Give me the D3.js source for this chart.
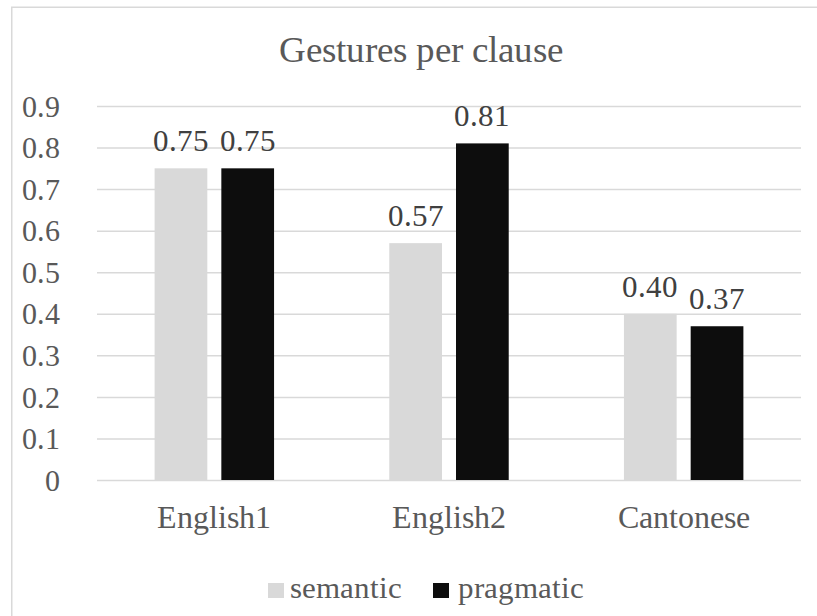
<!DOCTYPE html>
<html>
<head>
<meta charset="utf-8">
<script src="https://cdn.jsdelivr.net/npm/d3@7"></script>
<style>
  @font-face {
    font-family: "ChartSerif";
    src: local("Liberation Serif"), local("LiberationSerif-Regular"), local("LiberationSerif"), local("Times New Roman"), local("Tinos");
  }
  html, body { margin: 0; padding: 0; background: #fff; }
  svg { display: block; }
</style>
</head>
<body>
<svg id="chart" width="817" height="616"></svg>
<script>
// Gestures per clause, by language group and gesture type
const categories = ["English1", "English2", "Cantonese"];
const seriesNames = ["semantic", "pragmatic"];
const semantic = [0.75, 0.57, 0.40];
const pragmatic = [0.75, 0.81, 0.37];
const yTicks = [0, 0.1, 0.2, 0.3, 0.4, 0.5, 0.6, 0.7, 0.8, 0.9];

const colors = { semantic: "#d9d9d9", pragmatic: "#0d0d0d" };
const textColor = "#595959";
const bookFont = "ChartSerif, \"Liberation Serif\", \"Times New Roman\", monospace";

const svg = d3.select("#chart");

// Outer chart frame
svg.append("rect")
  .attr("x", 11.75).attr("y", 7.25)
  .attr("width", 830).attr("height", 630)
  .attr("fill", "#fff")
  .attr("stroke", "#d9d9d9")
  .attr("stroke-width", 1.5);

const plot = { left: 97, right: 801, top: 106, bottom: 480 };

const y = d3.scaleLinear().domain([0, 0.9]).range([plot.bottom, plot.top]);
const x0 = d3.scaleBand().domain(categories).range([plot.left, plot.right])
  .paddingInner(0.491).paddingOuter(0.2455);
const x1 = d3.scaleBand().domain(seriesNames).range([0, x0.bandwidth()])
  .paddingInner(0.21).paddingOuter(0);

// Title
svg.append("text")
  .attr("x", 421).attr("y", 62)
  .attr("text-anchor", "middle")
  .style("font-family", bookFont)
  .attr("font-size", 37)
  .attr("fill", textColor)
  .text("Gestures per clause");

// Horizontal gridlines and y tick labels
const yAxis = d3.axisLeft(y)
  .tickValues(yTicks)
  .tickSize(-(plot.right - plot.left))
  .tickPadding(37)
  .tickFormat(d => d === 0 ? "0" : d3.format(".1f")(d));

const gy = svg.append("g")
  .attr("transform", `translate(${plot.left},0)`)
  .call(yAxis)
  .attr("font-family", null);
gy.select(".domain").remove();
gy.selectAll(".tick line")
  .attr("stroke", "#d9d9d9")
  .attr("stroke-width", 1.5);
gy.selectAll(".tick text")
  .style("font-family", bookFont)
  .attr("font-size", 30)
  .attr("fill", textColor)
  .attr("dy", "0.34em");

// Bars
const rows = categories.map((c, i) => ({
  category: c,
  values: [
    { key: "semantic", value: semantic[i] },
    { key: "pragmatic", value: pragmatic[i] }
  ]
}));

const groups = svg.append("g").selectAll("g")
  .data(rows)
  .join("g")
  .attr("transform", d => `translate(${x0(d.category)},0)`);

groups.selectAll("rect")
  .data(d => d.values)
  .join("rect")
  .attr("x", d => x1(d.key))
  .attr("y", d => y(d.value))
  .attr("width", x1.bandwidth())
  .attr("height", d => y(0) - y(d.value))
  .attr("fill", d => colors[d.key]);

// Value labels above bars
groups.selectAll("text")
  .data(d => d.values)
  .join("text")
  .attr("x", d => x1(d.key) + x1.bandwidth() / 2)
  .attr("y", d => y(d.value) - 17)
  .attr("text-anchor", "middle")
  .style("font-family", bookFont)
  .attr("font-size", 31)
  .attr("fill", "#404040")
  .text(d => d3.format(".2f")(d.value));

// Category axis labels
const xAxis = d3.axisBottom(x0).tickSize(0).tickPadding(0);
const gx = svg.append("g")
  .attr("transform", `translate(0,${plot.bottom})`)
  .call(xAxis)
  .attr("font-family", null);
gx.select(".domain").remove();
gx.selectAll(".tick text")
  .style("font-family", bookFont)
  .attr("font-size", 32)
  .attr("fill", textColor)
  .attr("dy", null)
  .attr("y", 48);

// Legend
const legendItems = [
  { key: "semantic", sx: 268, tx: 290 },
  { key: "pragmatic", sx: 433, tx: 458 }
];
const legend = svg.append("g");
legend.selectAll("rect")
  .data(legendItems)
  .join("rect")
  .attr("x", d => d.sx).attr("y", 583)
  .attr("width", 16).attr("height", 15)
  .attr("fill", d => colors[d.key]);
legend.selectAll("text")
  .data(legendItems)
  .join("text")
  .attr("x", d => d.tx).attr("y", 598)
  .style("font-family", bookFont)
  .attr("font-size", 31)
  .attr("fill", textColor)
  .text(d => d.key);
</script>
</body>
</html>
